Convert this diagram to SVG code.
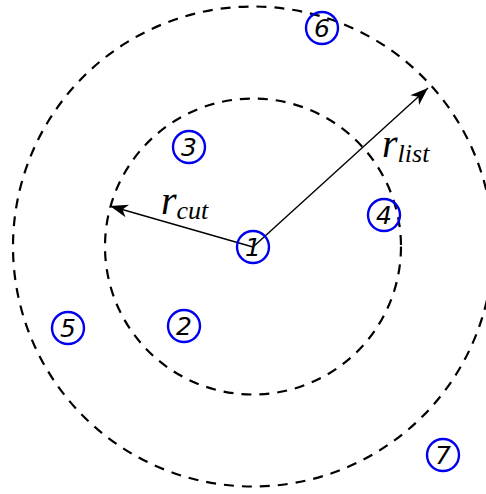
<svg xmlns="http://www.w3.org/2000/svg" width="486" height="494" viewBox="0 0 486 494">
<style>
.ring{fill:none;stroke:#000;stroke-width:2.2;stroke-dasharray:10 8}
.node{fill:none;stroke:#0000ee;stroke-width:2.4}
.num{font-family:"DejaVu Sans",sans-serif;font-style:italic;font-size:25px;fill:#000;text-anchor:middle}
.r{font-family:"Liberation Serif",serif;font-style:italic;fill:#000}
.conn{stroke:#000;stroke-width:1.4;fill:none}
</style>
<defs>
<marker id="ah" markerUnits="userSpaceOnUse" viewBox="-19 -8 20 16" markerWidth="20" markerHeight="16" refX="0" refY="0" orient="auto">
<path d="M0,0 L-18,-6.5 L-13,0 L-18,6.5 Z" fill="#000"/>
</marker>
</defs>
<rect width="486" height="494" fill="#fff"/>
<g id="rings">
<circle class="ring" cx="253" cy="246.5" r="148"/>
<circle class="ring" cx="253" cy="246.5" r="240"/>
</g>
<g id="connectors">
<line class="conn" x1="253" y1="247" x2="110" y2="206" marker-end="url(#ah)"/>
<line class="conn" x1="253" y1="247" x2="428" y2="88" marker-end="url(#ah)"/>
</g>
<g id="labels">
<text class="r" x="161" y="214" font-size="40">r<tspan font-size="26" dy="5">cut</tspan></text>
<text class="r" x="382" y="157" font-size="40">r<tspan font-size="26" dy="5">list</tspan></text>
</g>
<g id="n1"><circle class="node" cx="253" cy="247" r="16"/><text class="num" x="253" y="256">1</text></g>
<g id="n2"><circle class="node" cx="184" cy="326" r="16"/><text class="num" x="184" y="335">2</text></g>
<g id="n3"><circle class="node" cx="189" cy="147" r="16"/><text class="num" x="189" y="156">3</text></g>
<g id="n4"><circle class="node" cx="384" cy="215" r="16"/><text class="num" x="384" y="224">4</text></g>
<g id="n5"><circle class="node" cx="68" cy="328" r="16"/><text class="num" x="68" y="337">5</text></g>
<g id="n6"><circle class="node" cx="322" cy="28" r="16"/><text class="num" x="322" y="37">6</text></g>
<g id="n7"><circle class="node" cx="443" cy="455" r="16"/><text class="num" x="443" y="464">7</text></g>
</svg>
